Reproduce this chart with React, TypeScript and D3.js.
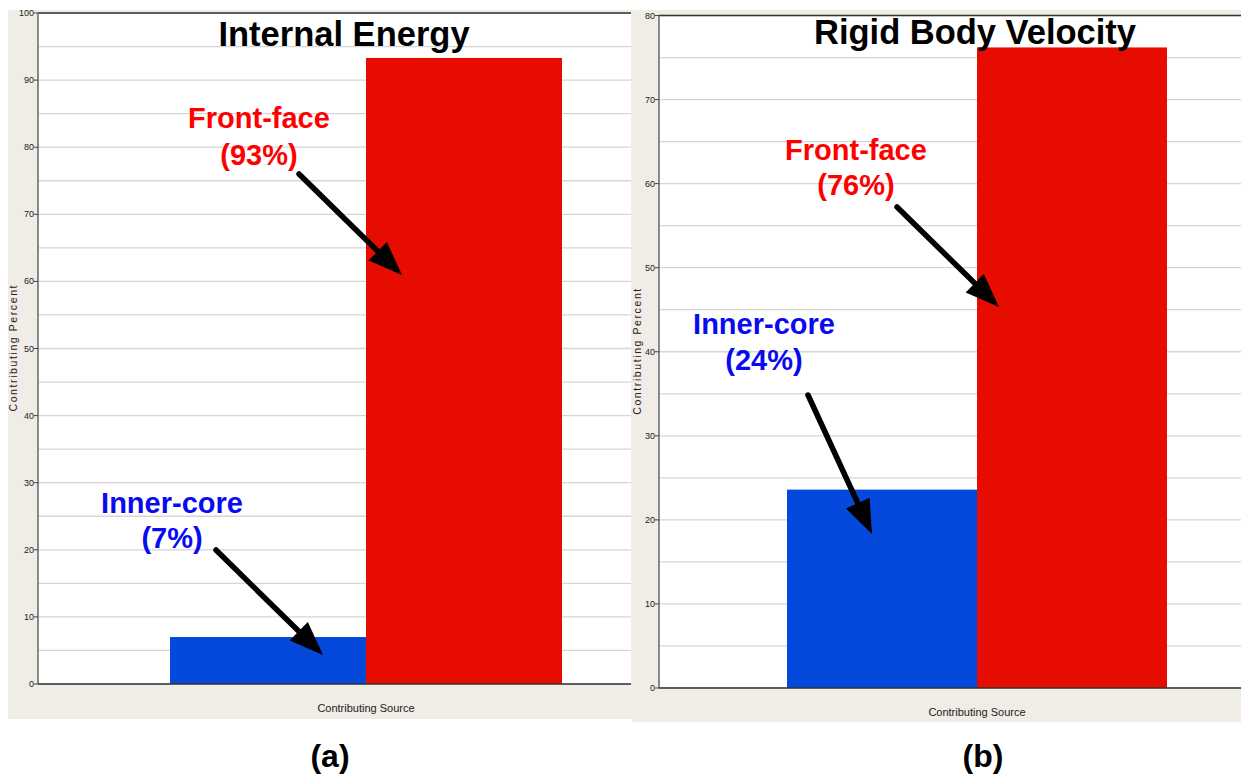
import React from "react";
import * as d3 from "d3";

// ---------- data ----------
const categories = ["Inner-core", "Front-face"];
const energyValues = [7, 93.3];
const velocityValues = [23.6, 76.2];
const energyTicks = [0, 10, 20, 30, 40, 50, 60, 70, 80, 90, 100];
const velocityTicks = [0, 10, 20, 30, 40, 50, 60, 70, 80];
const titles = ["Internal Energy", "Rigid Body Velocity"];
const panelLetters = ["(a)", "(b)"];
const xAxisLabel = "Contributing Source";
const yAxisLabel = "Contributing Percent";

// ---------- styling / layout ----------
const BAR_COLORS = ["#0449DB", "#E60D00"];
const LABEL_COLORS = ["#0A0AF0", "#FF0000"];
const BEIGE = "#F0ECE6";
const GRID = "#D6D6D6";
const NARROW = "'Liberation Sans Narrow', 'Arial Narrow', 'Liberation Sans', Arial, sans-serif";
const SANS = "'Liberation Sans', Arial, Helvetica, sans-serif";

type Panel = {
  values: number[];
  ticks: number[];
  title: string;
  letter: string;
  bg: { x: number; y: number; w: number; h: number };
  plot: { x0: number; x1: number; y0: number; y1: number };
  barRange: [number, number];
  titleX: number;
  titleY: number;
  letterX: number;
  ann: { x: number; y1: number; y2: number; from: [number, number]; to: [number, number] }[];
};

const panels: Panel[] = [
  {
    values: energyValues,
    ticks: energyTicks,
    title: titles[0],
    letter: panelLetters[0],
    bg: { x: 8, y: 10, w: 624, h: 709 },
    plot: { x0: 38, x1: 631, y0: 13, y1: 684 },
    barRange: [170, 562],
    titleX: 344,
    titleY: 46,
    letterX: 330,
    ann: [
      { x: 172, y1: 513, y2: 548, from: [216, 550], to: [323, 655] },
      { x: 259, y1: 128, y2: 165, from: [299, 174], to: [402, 275] },
    ],
  },
  {
    values: velocityValues,
    ticks: velocityTicks,
    title: titles[1],
    letter: panelLetters[1],
    bg: { x: 632, y: 10, w: 609, h: 712 },
    plot: { x0: 659, x1: 1241, y0: 15.5, y1: 688 },
    barRange: [787, 1167],
    titleX: 975,
    titleY: 44,
    letterX: 983,
    ann: [
      { x: 764, y1: 334, y2: 370, from: [808, 395], to: [872, 534] },
      { x: 856, y1: 160, y2: 195, from: [897, 207], to: [999, 307] },
    ],
  },
];

function Arrow({ from, to }: { from: [number, number]; to: [number, number] }) {
  const [x1, y1] = from;
  const [x2, y2] = to;
  const dx = x2 - x1;
  const dy = y2 - y1;
  const len = Math.hypot(dx, dy);
  const ux = dx / len;
  const uy = dy / len;
  const headLen = 34;
  const headHalf = 13;
  const bx = x2 - ux * headLen;
  const by = y2 - uy * headLen;
  const px = -uy;
  const py = ux;
  const pts = [
    [x2, y2],
    [bx + px * headHalf, by + py * headHalf],
    [bx - px * headHalf, by - py * headHalf],
  ];
  return (
    <g>
      <line x1={x1} y1={y1} x2={bx + ux * 4} y2={by + uy * 4} stroke="#000" strokeWidth={5.5} strokeLinecap="round" />
      <polygon points={pts.map((p) => p.join(",")).join(" ")} fill="#000" />
    </g>
  );
}

function PanelView({ p }: { p: Panel }) {
  const yMax = p.ticks[p.ticks.length - 1];
  const y = d3.scaleLinear().domain([0, yMax]).range([p.plot.y1, p.plot.y0]);
  const x = d3.scaleBand<string>().domain(categories).range(p.barRange).padding(0);
  const minorTicks = d3.range(5, yMax, 10);
  const plotCx = (p.plot.y0 + p.plot.y1) / 2;
  const xLabelX = (p.barRange[0] + p.barRange[1]) / 2;

  return (
    <g>
      <rect x={p.bg.x} y={p.bg.y} width={p.bg.w} height={p.bg.h} fill={BEIGE} />
      <rect x={p.plot.x0} y={p.plot.y0} width={p.plot.x1 - p.plot.x0} height={p.plot.y1 - p.plot.y0} fill="#fff" />
      {[...p.ticks, ...minorTicks].map((t) => (
        <line key={"g" + t} x1={p.plot.x0} x2={p.plot.x1} y1={y(t)} y2={y(t)} stroke={GRID} strokeWidth={1.3} />
      ))}
      {categories.map((c, i) => (
        <rect
          key={c}
          x={x(c)!}
          y={y(p.values[i])}
          width={x.bandwidth()}
          height={y(0) - y(p.values[i])}
          fill={BAR_COLORS[i]}
        />
      ))}
      <line x1={p.plot.x0} x2={p.plot.x1} y1={p.plot.y0} y2={p.plot.y0} stroke="#333" strokeWidth={1.3} />
      <line x1={p.plot.x0} x2={p.plot.x0} y1={p.plot.y0} y2={p.plot.y1} stroke="#666" strokeWidth={1.5} />
      {p.ticks.map((t) => (
        <g key={"t" + t}>
          <line x1={p.plot.x0 - 4} x2={p.plot.x0} y1={y(t)} y2={y(t)} stroke="#444" strokeWidth={1} />
          <text x={p.plot.x0 - 4} y={y(t) + 3} textAnchor="end" fontSize={9} fontFamily={NARROW} fill="#222">
            {t}
          </text>
        </g>
      ))}
      <line x1={p.plot.x0} x2={p.plot.x1} y1={p.plot.y1} y2={p.plot.y1} stroke="#333" strokeWidth={1.5} />
      <text x={xLabelX} y={p.plot.y1 + 28} textAnchor="middle" fontSize={11} fontFamily={NARROW} fill="#222">
        {xAxisLabel}
      </text>
      <text
        transform={`translate(${p.bg.x + 8.5},${plotCx}) rotate(-90)`}
        textAnchor="middle"
        fontSize={10.5}
        fontFamily={SANS}
        fill="#222"
        textLength={126}
        lengthAdjust="spacing"
      >
        {yAxisLabel}
      </text>
      <text x={p.titleX} y={p.titleY} textAnchor="middle" fontSize={34.5} fontWeight="bold" fontFamily={SANS} fill="#000">
        {p.title}
      </text>
      {categories.map((c, i) => {
        const a = p.ann[i];
        return (
          <g key={"a" + c}>
            <text x={a.x} y={a.y1} textAnchor="middle" fontSize={29} fontWeight="bold" fontFamily={SANS} fill={LABEL_COLORS[i]}>
              {c}
            </text>
            <text x={a.x} y={a.y2} textAnchor="middle" fontSize={29} fontWeight="bold" fontFamily={SANS} fill={LABEL_COLORS[i]}>
              {`(${Math.round(p.values[i])}%)`}
            </text>
            <Arrow from={a.from} to={a.to} />
          </g>
        );
      })}
      <text x={p.letterX} y={767} textAnchor="middle" fontSize={32} fontWeight="bold" fontFamily={SANS} fill="#000">
        {p.letter}
      </text>
    </g>
  );
}

export default function App() {
  return (
    <svg
      width={1241}
      height={776}
      viewBox="0 0 1241 776"
      style={{ position: "absolute", left: 0, top: 0, background: "#fff" }}
    >
      <rect x={0} y={0} width={1241} height={776} fill="#fff" />
      {panels.map((p, i) => (
        <PanelView key={i} p={p} />
      ))}
    </svg>
  );
}
